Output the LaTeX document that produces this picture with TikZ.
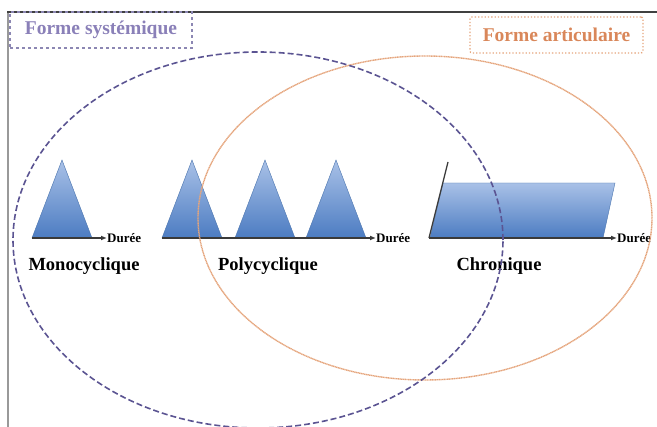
\documentclass[tikz,border=0pt]{standalone}
\usepackage{fontspec}
\setmainfont{Liberation Serif}
\usetikzlibrary{arrows.meta}

\begin{document}
\begin{tikzpicture}[x=1pt,y=-1pt]

    \tikzstyle{every node}=[font=\bfseries, inner sep=1pt]
    \def\base{238}
    \def\half{30}
    \def\high{78}
    \definecolor{peaktop}{HTML}{A9C1E7}
    \definecolor{peakbot}{HTML}{4C7CC2}
    \definecolor{peakedge}{HTML}{4A74AE}
    \definecolor{axiscolor}{HTML}{3A3A3A}
    \definecolor{systeme}{HTML}{5B5492}
    \definecolor{systemetext}{HTML}{8A80B8}
    \definecolor{articule}{HTML}{E5A57C}
    \definecolor{articuletext}{HTML}{D9875A}

    \tikzstyle{peak}=[top color=peaktop, bottom color=peakbot, draw=peakedge, line width=0.4pt]
    \tikzstyle{axis}=[draw=axiscolor, line width=1.3pt, -{Latex[length=6pt,width=5pt]}]
    \tikzstyle{duree}=[anchor=west, font=\bfseries\fontsize{13}{15}\selectfont, inner sep=0pt]
    \tikzstyle{typename}=[font=\bfseries\fontsize{18.5}{21}\selectfont]
    \tikzstyle{formname}=[font=\bfseries\fontsize{19.5}{22}\selectfont, minimum height=36pt, inner sep=0pt]

    \useasboundingbox (0,0) rectangle (657,427);

    % cadre
    \draw[gray!80, line width=1.5pt] (8,427) -- (8,12);
    \draw[black!75, line width=2pt] (7.25,12) -- (657,12);

    % monocyclique
    \draw[peak] (62-\half,\base) -- (62,\base-\high) -- (62+\half,\base) -- cycle;
    \coordinate (m0) at (32,\base);
    \node[duree] (m1) at (107,\base) {Durée};
    \draw[axis] (m0) -- (m1.west);
    \node[typename] (mono) at (84,266) {Monocyclique};

    % polycyclique
    \foreach \x in {192,265,336}
        \draw[peak] (\x-\half,\base) -- (\x,\base-\high) -- (\x+\half,\base) -- cycle;
    \coordinate (p0) at (162,\base);
    \node[duree] (p1) at (376,\base) {Durée};
    \draw[axis] (p0) -- (p1.west);
    \node[typename] (poly) at (268,266) {Polycyclique};

    % chronique
    \draw[peak] (430,\base) -- (443,183) -- (615,183) -- (603,\base) -- cycle;
    \coordinate (c0) at (429,\base);
    \coordinate (ctop) at (448,162);
    \draw[axiscolor, line width=1.3pt] (c0) -- (ctop);
    \node[duree] (c1) at (617,\base) {Durée};
    \draw[axis] (c0) -- (c1.west);
    \node[typename] (chro) at (499,266) {Chronique};

    % formes
    \draw[articule, line width=1.4pt, dash pattern=on 1.2pt off 0.5pt] (425,218) ellipse [x radius=227pt, y radius=162pt];
    \draw[systeme, line width=1.6pt, dash pattern=on 6pt off 3pt] (258,240) ellipse [x radius=245pt, y radius=188pt];

    \node[formname, draw=systeme!70!white, dashed, line width=1.4pt, text=systemetext, minimum width=182pt] (sys) at (101,30) {Forme systémique};
    \node[formname, draw=articule, dotted, line width=1.3pt, rounded corners=2pt, text=articuletext, minimum width=173pt] (art) at (556.5,35) {Forme articulaire};
\end{tikzpicture}
\end{document}
